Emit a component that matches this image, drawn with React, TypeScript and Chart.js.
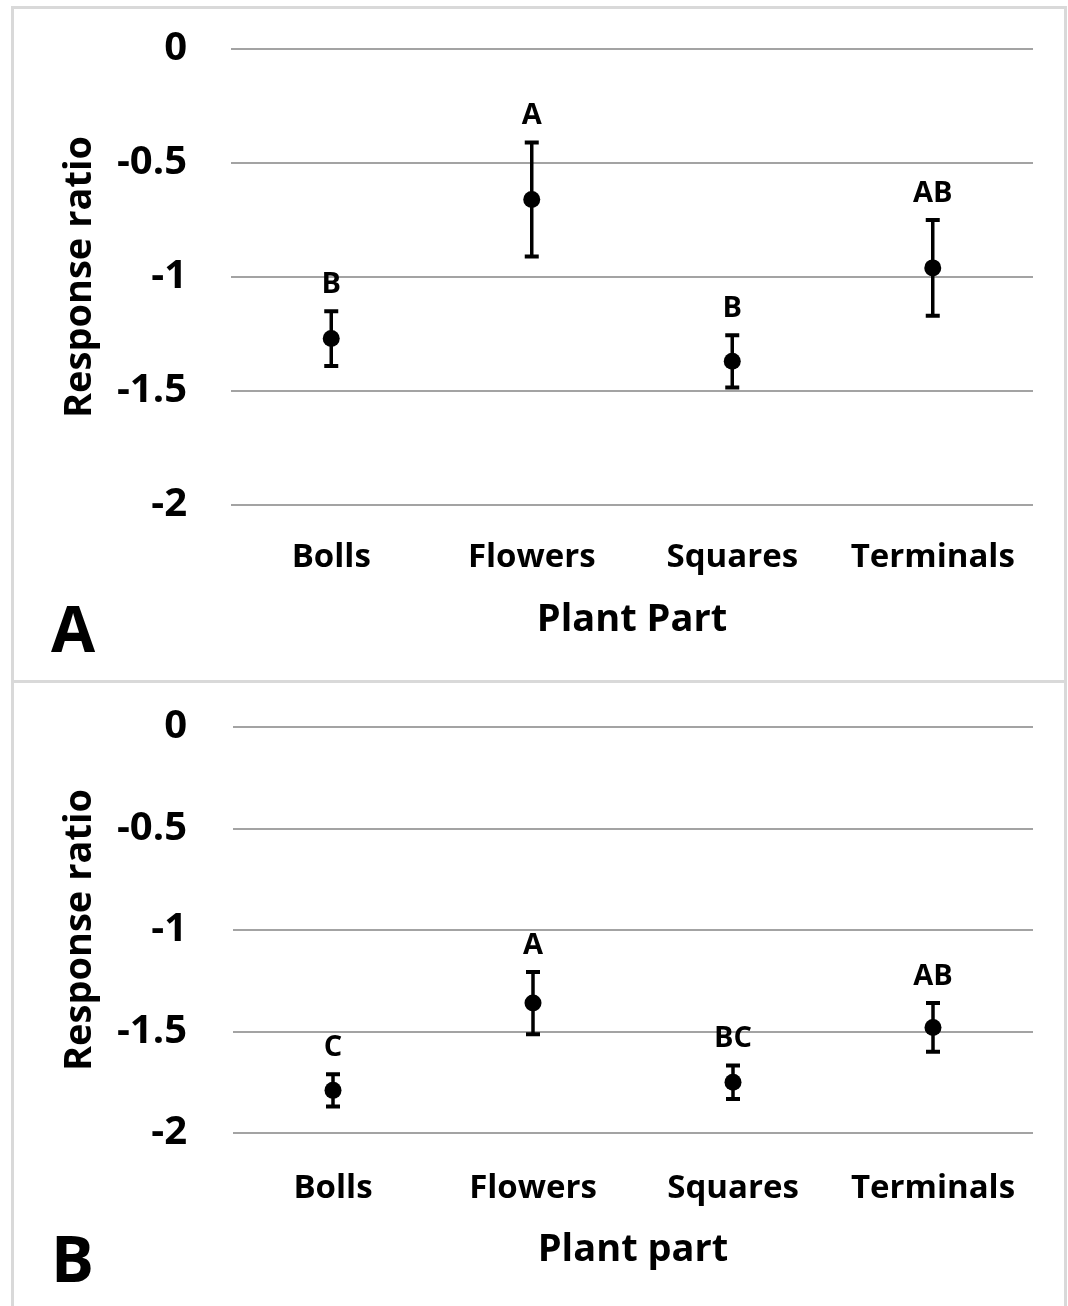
import React, { useEffect, useRef } from 'react';
import { Chart, registerables } from 'chart.js';

Chart.register(...registerables);

// ---------- data ----------
const categories = ['Bolls', 'Flowers', 'Squares', 'Terminals'];

const meansA = [-1.27, -0.66, -1.37, -0.96];
const errorsA = [0.12, 0.25, 0.115, 0.21];
const lettersA = ['B', 'A', 'B', 'AB'];

const meansB = [-1.79, -1.36, -1.75, -1.48];
const errorsB = [0.08, 0.153, 0.083, 0.12];
const lettersB = ['C', 'A', 'BC', 'AB'];

const yTickValues = [0, -0.5, -1, -1.5, -2];
const yTickLabels = ['0', '-0.5', '-1', '-1.5', '-2'];
const yMin = -2;
const yMax = 0;

const FONT = '"Open Sans", "Noto Sans", sans-serif';

type Panel = {
  means: number[];
  errors: number[];
  letters: string[];
  xTitle: string;
  panelLabel: string;
  width: number;
  height: number;
  padTop: number;
  plotLeft: number;
  plotRight: number;
  xAxisHeight: number;
  yTickPad: number;
  xTickPad: number;
  xTitlePadBottom: number;
  labelBaseline: number;
};

function makeOverlayPlugin(p: Panel) {
  return {
    id: 'overlay' + p.panelLabel,
    afterDatasetsDraw(chart: any) {
      const { ctx, scales } = chart;
      const x = scales.x;
      const y = scales.y;
      ctx.save();
      ctx.strokeStyle = '#000';
      ctx.fillStyle = '#000';
      p.means.forEach((m, i) => {
        const px = x.getPixelForValue(i);
        const top = y.getPixelForValue(m + p.errors[i]);
        const bot = y.getPixelForValue(m - p.errors[i]);
        ctx.lineWidth = 3.5;
        ctx.beginPath();
        ctx.moveTo(px, top);
        ctx.lineTo(px, bot);
        ctx.stroke();
        ctx.lineWidth = 4;
        ctx.beginPath();
        ctx.moveTo(px - 7, top);
        ctx.lineTo(px + 7, top);
        ctx.moveTo(px - 7, bot);
        ctx.lineTo(px + 7, bot);
        ctx.stroke();
        ctx.font = 'bold 29px ' + FONT;
        ctx.textAlign = 'center';
        ctx.textBaseline = 'alphabetic';
        ctx.fillText(p.letters[i], px, top - 18);
      });
      ctx.font = 'bold 64px ' + FONT;
      ctx.textAlign = 'left';
      ctx.textBaseline = 'alphabetic';
      ctx.fillText(p.panelLabel, 51, p.labelBaseline);
      ctx.restore();
    },
  };
}

function makeConfig(p: Panel): any {
  return {
    type: 'line',
    data: {
      labels: categories,
      datasets: [
        {
          data: p.means,
          showLine: false,
          pointRadius: 8.5,
          pointHoverRadius: 8.5,
          pointBackgroundColor: '#000',
          pointBorderColor: '#000',
          pointBorderWidth: 0,
        },
      ],
    },
    options: {
      animation: false,
      responsive: false,
      maintainAspectRatio: false,
      events: [],
      layout: {
        padding: { left: 0, top: p.padTop, right: p.width - p.plotRight, bottom: 0 },
      },
      plugins: {
        legend: { display: false },
        tooltip: { enabled: false },
        title: { display: false },
      },
      scales: {
        x: {
          type: 'category',
          offset: true,
          grid: { display: false, drawTicks: false },
          border: { display: false },
          ticks: {
            color: '#000',
            font: { family: FONT, size: 33, weight: 'bold' },
            padding: p.xTickPad,
            maxRotation: 0,
            minRotation: 0,
            autoSkip: false,
          },
          title: {
            display: true,
            text: p.xTitle,
            color: '#000',
            font: { family: FONT, size: 38, weight: 'bold' },
            padding: { top: 0, bottom: p.xTitlePadBottom },
          },
          afterFit: (scale: any) => {
            scale.height = p.xAxisHeight;
          },
        },
        y: {
          type: 'linear',
          min: yMin,
          max: yMax,
          grid: { color: '#a3a3a3', lineWidth: 2, drawTicks: false },
          border: { display: false },
          afterBuildTicks: (scale: any) => {
            scale.ticks = yTickValues.map((v) => ({ value: v }));
          },
          ticks: {
            color: '#000',
            font: { family: FONT, size: 40, weight: 'bold' },
            padding: p.yTickPad,
            callback: (v: any) => {
              const idx = yTickValues.indexOf(Number(v));
              return idx >= 0 ? yTickLabels[idx] : '';
            },
          },
          title: {
            display: true,
            text: 'Response ratio',
            color: '#000',
            font: { family: FONT, size: 38, weight: 'bold' },
            padding: { top: 57, bottom: 0 },
          },
          afterFit: (scale: any) => {
            scale.width = p.plotLeft;
            scale.paddingTop = 0;
            scale.paddingBottom = 0;
          },
        },
      },
    },
    plugins: [makeOverlayPlugin(p)],
  };
}

const panelA: Panel = {
  means: meansA,
  errors: errorsA,
  letters: lettersA,
  xTitle: 'Plant Part',
  panelLabel: 'A',
  width: 1068,
  height: 680,
  padTop: 49,
  plotLeft: 231,
  plotRight: 1033,
  xAxisHeight: 680 - 505,
  yTickPad: 44,
  xTickPad: 33,
  xTitlePadBottom: 37,
  labelBaseline: 652,
};

const panelB: Panel = {
  means: meansB,
  errors: errorsB,
  letters: lettersB,
  xTitle: 'Plant part',
  panelLabel: 'B',
  width: 1068,
  height: 626,
  padTop: 47,
  plotLeft: 233,
  plotRight: 1033,
  xAxisHeight: 626 - 453,
  yTickPad: 46,
  xTickPad: 36,
  xTitlePadBottom: 33,
  labelBaseline: 602,
};

function PanelChart({ p, top }: { p: Panel; top: number }) {
  const ref = useRef<HTMLCanvasElement | null>(null);
  useEffect(() => {
    if (!ref.current) return;
    const chart = new Chart(ref.current, makeConfig(p));
    return () => chart.destroy();
  }, [p]);
  return (
    <canvas
      ref={ref}
      width={p.width}
      height={p.height}
      style={{ position: 'absolute', left: 0, top, width: p.width, height: p.height }}
    />
  );
}

export default function App() {
  return (
    <div
      style={{
        position: 'absolute',
        left: 0,
        top: 0,
        width: 1068,
        height: 1306,
        background: '#fff',
        overflow: 'hidden',
      }}
    >
      <PanelChart p={panelA} top={0} />
      <PanelChart p={panelB} top={680} />
      <div
        style={{
          position: 'absolute',
          left: 11,
          top: 6,
          width: 1056,
          height: 677,
          border: '3px solid #d9d9d9',
          boxSizing: 'border-box',
          pointerEvents: 'none',
        }}
      />
      <div
        style={{
          position: 'absolute',
          left: 11,
          top: 680,
          width: 1056,
          height: 640,
          border: '3px solid #d9d9d9',
          boxSizing: 'border-box',
          pointerEvents: 'none',
        }}
      />
    </div>
  );
}
